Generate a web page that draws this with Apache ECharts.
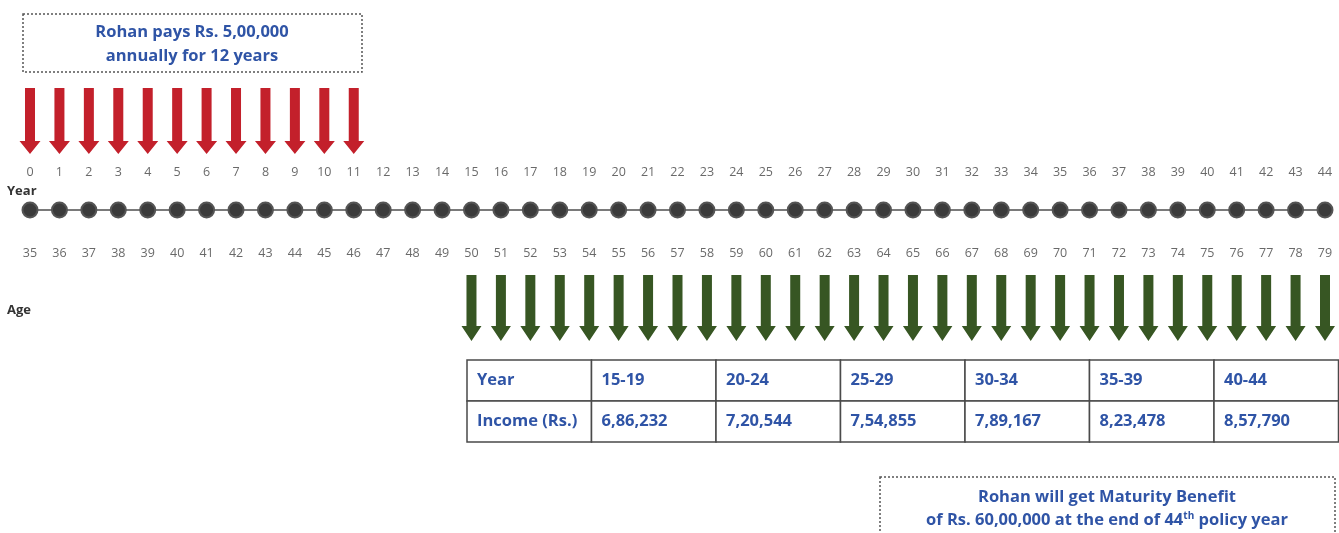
<!DOCTYPE html>
<html>
<head>
<meta charset="utf-8">
<title>Policy timeline</title>
<script src="https://cdn.jsdelivr.net/npm/echarts@6/dist/echarts.min.js"></script>
<style>
  html, body { margin: 0; padding: 0; background: #fff; }
  #main { width: 1339px; height: 533px; }
</style>
</head>
<body>
<div id="main"></div>
<script>
// policy years shown on the timeline
const years = [0, 1, 2, 3, 4, 5, 6, 7, 8, 9, 10, 11, 12, 13, 14, 15, 16, 17, 18, 19, 20, 21, 22,
  23, 24, 25, 26, 27, 28, 29, 30, 31, 32, 33, 34, 35, 36, 37, 38, 39, 40, 41, 42, 43, 44];
// Rohan's age in each policy year
const ages = [35, 36, 37, 38, 39, 40, 41, 42, 43, 44, 45, 46, 47, 48, 49, 50, 51, 52, 53, 54, 55, 56, 57,
  58, 59, 60, 61, 62, 63, 64, 65, 66, 67, 68, 69, 70, 71, 72, 73, 74, 75, 76, 77, 78, 79];
// years with premium payment (red) and with income (green)
const payYears = [0, 1, 2, 3, 4, 5, 6, 7, 8, 9, 10, 11];
const incomeYears = [15, 16, 17, 18, 19, 20, 21, 22, 23, 24, 25, 26, 27, 28, 29,
  30, 31, 32, 33, 34, 35, 36, 37, 38, 39, 40, 41, 42, 43, 44];
// dots drawn with a black ring
const ringYears = [0, 37, 38, 39, 40, 41, 42, 43, 44];
// income table
const tableHead = ['Year', '15-19', '20-24', '25-29', '30-34', '35-39', '40-44'];
const tableIncome = ['Income (Rs.)', '6,86,232', '7,20,544', '7,54,855', '7,89,167', '8,23,478', '8,57,790'];

const BLUE = '#2f54a6';
const FONT = '"Open Sans", Lato, sans-serif';
const LINE_Y = 210;     // timeline row (y axis is in page pixels)
const YEAR_Y = 172;
const AGE_Y = 253;

const chart = echarts.init(document.getElementById('main'));

// down arrow: shaft + head
function arrowItem(top, headTop, tip, shaftW, headW, color) {
  return function (params, api) {
    const x = api.coord([api.value(0), 0])[0];
    const y0 = api.coord([0, top])[1];
    const y1 = api.coord([0, headTop])[1];
    const y2 = api.coord([0, tip])[1];
    return {
      type: 'polygon',
      shape: {
        points: [
          [x - shaftW / 2, y0], [x + shaftW / 2, y0], [x + shaftW / 2, y1],
          [x + headW / 2, y1], [x, y2], [x - headW / 2, y1], [x - shaftW / 2, y1]
        ]
      },
      style: { fill: color }
    };
  };
}

// table built as graphic elements
const tableLeft = 467, tableTop = 360, colW = 124.5, rowH = 41;
const tableEls = [];
[tableHead, tableIncome].forEach(function (row, r) {
  row.forEach(function (txt, c) {
    tableEls.push({
      type: 'rect',
      shape: { x: tableLeft + c * colW, y: tableTop + r * rowH, width: colW, height: rowH },
      style: { fill: '#fff', stroke: '#4a4a4a', lineWidth: 1.5 }
    });
    tableEls.push({
      type: 'text',
      x: tableLeft + c * colW + 10,
      y: tableTop + r * rowH + rowH / 2,
      style: { text: txt, font: 'bold 16.5px ' + FONT, fill: BLUE, verticalAlign: 'middle' }
    });
  });
});

chart.setOption({
  animation: false,
  grid: { left: 30, right: 14, top: 0, bottom: 0 },
  xAxis: { type: 'value', min: 0, max: 44, show: false },
  yAxis: { type: 'value', min: 0, max: 533, inverse: true, show: false },
  series: [
    {
      type: 'line',
      data: years.map(function (y) { return [y, LINE_Y]; }),
      lineStyle: { color: '#7a7a7a', width: 2 },
      symbol: 'circle',
      symbolSize: 15,
      itemStyle: {
        color: '#3b3b3b',
        borderColor: function (p) { return ringYears.indexOf(p.data[0]) >= 0 ? '#000' : '#3b3b3b'; },
        borderWidth: 2
      },
      z: 3
    },
    {
      type: 'scatter',
      symbolSize: 0,
      data: years.map(function (y) { return [y, YEAR_Y]; }),
      label: {
        show: true, position: 'inside', color: '#444', fontSize: 12.5, fontFamily: FONT,
        formatter: function (p) { return String(p.data[0]); }
      }
    },
    {
      type: 'scatter',
      symbolSize: 0,
      data: years.map(function (y, i) { return [y, AGE_Y, ages[i]]; }),
      label: {
        show: true, position: 'inside', color: '#444', fontSize: 12.5, fontFamily: FONT,
        formatter: function (p) { return String(p.data[2]); }
      }
    },
    {
      type: 'custom',
      data: payYears.map(function (y) { return [y]; }),
      renderItem: arrowItem(88, 141, 154, 10, 21, '#c3202b')
    },
    {
      type: 'custom',
      data: incomeYears.map(function (y) { return [y]; }),
      renderItem: arrowItem(275, 326, 341, 10, 20, '#375623')
    }
  ],
  graphic: [
    {
      type: 'rect',
      shape: { x: 23, y: 14, width: 339, height: 58 },
      style: { fill: 'none', stroke: '#555', lineWidth: 1.5, lineDash: [2, 2] }
    },
    {
      type: 'text', x: 192, y: 44,
      style: {
        text: 'Rohan pays Rs. 5,00,000\nannually for 12 years', font: 'bold 16.5px ' + FONT,
        fill: BLUE, align: 'center', verticalAlign: 'middle', lineHeight: 24
      }
    },
    { type: 'text', x: 7, y: 191, style: { text: 'Year', font: 'bold 13px ' + FONT, fill: '#333', verticalAlign: 'middle' } },
    { type: 'text', x: 7, y: 310, style: { text: 'Age', font: 'bold 13px ' + FONT, fill: '#333', verticalAlign: 'middle' } },
    { type: 'group', children: tableEls },
    {
      type: 'rect',
      shape: { x: 880, y: 477, width: 455, height: 70 },
      style: { fill: 'none', stroke: '#555', lineWidth: 1.5, lineDash: [2, 2] }
    },
    {
      type: 'text', x: 1107, y: 509,
      style: {
        text: '{a|Rohan will get Maturity Benefit}\n{a|of Rs. 60,00,000 at the end of 44}{s|th}{a| policy year}',
        align: 'center', verticalAlign: 'middle',
        rich: {
          a: { font: 'bold 16.5px ' + FONT, fill: BLUE, lineHeight: 23 },
          s: { font: 'bold 10px ' + FONT, fill: BLUE, lineHeight: 23, padding: [0, 0, 8, 0] }
        }
      }
    }
  ]
});
</script>
</body>
</html>
